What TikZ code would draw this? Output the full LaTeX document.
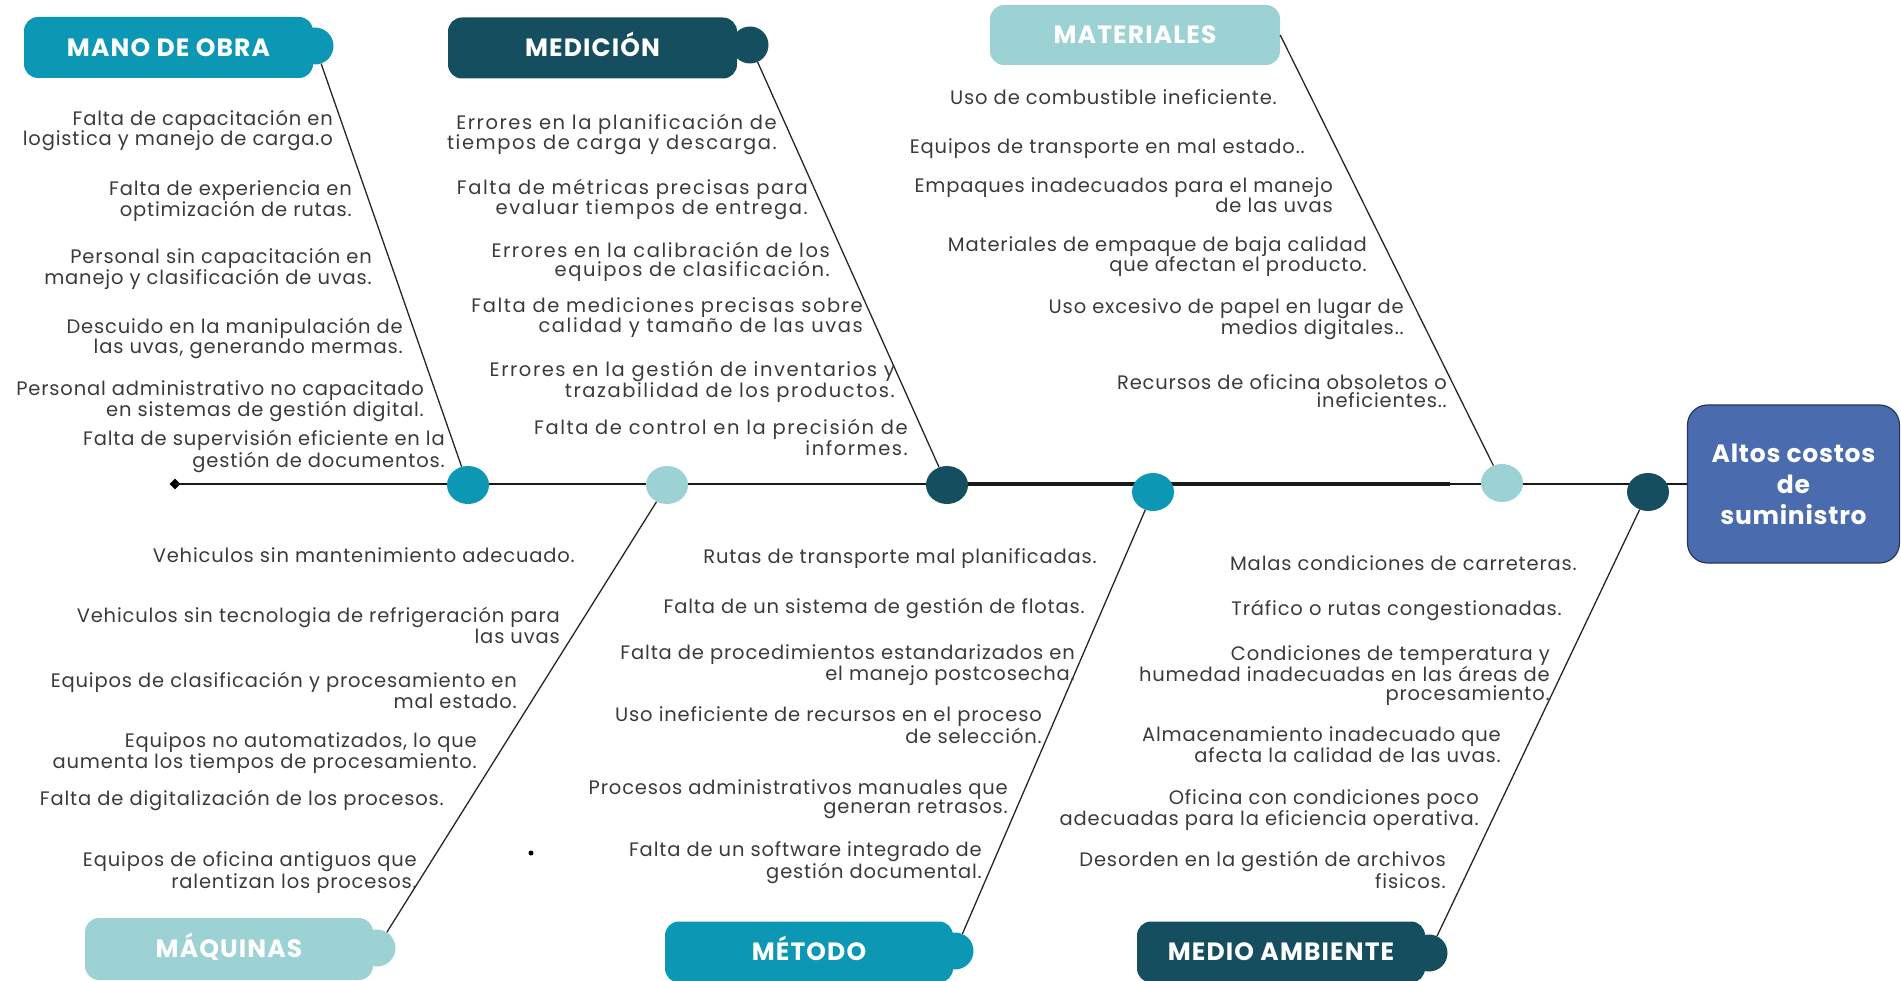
\documentclass[tikz,border=0pt]{standalone}
\usepackage{fontspec}
\setmainfont{Poppins}
\newfontfamily\causefont[LetterSpace=4.3]{Poppins}
\newfontfamily\widecausefont[LetterSpace=8]{Poppins}
\newfontfamily\headfont[LetterSpace=4.5]{Poppins}
\newfontfamily\effectfont[LetterSpace=3]{Poppins}
\usetikzlibrary{shapes.geometric}
\definecolor{teal}{RGB}{12,152,180}
\definecolor{deep}{RGB}{20,78,95}
\definecolor{pale}{RGB}{156,210,211}
\definecolor{effect}{RGB}{74,107,174}
\definecolor{effectline}{RGB}{40,55,90}
\definecolor{txt}{RGB}{58,58,58}
\begin{document}
\begin{tikzpicture}[x=1pt,y=-1pt,
  cause/.style={font=\causefont\fontsize{19.5}{18.5}\selectfont, text=txt, align=right,
    inner sep=0pt, anchor=base east},
  widecause/.style={cause, font=\widecausefont\fontsize{19.5}{19.5}\selectfont},
  head/.style={rounded corners=14pt, minimum height=61pt, text=white, inner sep=0pt,
    text height=17.5pt, text depth=0pt, font=\headfont\bfseries\fontsize{25}{28}\selectfont},
  knob/.style={circle, minimum size=37pt, inner sep=0pt},
  joint/.style={ellipse, minimum width=42pt, minimum height=38pt, inner sep=0pt},
  bone/.style={line width=1.3pt, black!85},
  spine/.style={line width=2pt, black!90}]
\useasboundingbox (0,0) rectangle (1901,981);

% effect box at the head of the fish
\node[draw=effectline, line width=1.2pt, fill=effect, rounded corners=20pt, minimum width=212pt,
  minimum height=158pt, text=white, align=center,
  font=\effectfont\bfseries\fontsize{25}{31}\selectfont] (eff) at (1793.5,484) {Altos costos\\de\\suministro};

% tail and spine (heavier stretch in the middle)
\node[diamond, fill=black, minimum size=11pt, inner sep=0pt] (tail) at (175,484) {};
\coordinate (thickstart) at (947,484);
\coordinate (thickend) at (1450,484);
\draw[spine] (tail.center) -- (eff.west |- 0,484);
\draw[line width=3.2pt, black!90] (thickstart) -- (thickend);

% joints on the spine
\node[joint, fill=teal] (s1) at (468,485) {};
\node[joint, fill=pale] (s2) at (667,485) {};
\node[joint, fill=deep] (s3) at (947,485) {};
\node[joint, fill=teal] (s4) at (1153,492) {};
\node[joint, fill=pale] (s5) at (1502,483) {};
\node[joint, fill=deep] (s6) at (1648,492) {};

% category labels
\node[knob, fill=teal] (manoK) at (315,46) {};
\node[head, fill=teal, minimum width=289pt] (mano) at (168.5,47.5) {MANO DE OBRA};
\node[knob, fill=deep] (mediK) at (750,45) {};
\node[head, fill=deep, minimum width=289pt] (medi) at (592.5,48) {MEDICIÓN};
\node[head, fill=pale, minimum width=290pt, minimum height=60pt] (mate) at (1135,35) {MATERIALES};
\node[knob, fill=pale] (maquK) at (377,948) {};
\node[head, fill=pale, minimum width=288pt, minimum height=62pt] (maqu) at (229,949) {MÁQUINAS};
\node[knob, fill=teal] (metoK) at (955,951) {};
\node[head, fill=teal, minimum width=288pt] (meto) at (809,952) {MÉTODO};
\node[knob, fill=deep] (mediaK) at (1429,953) {};
\node[head, fill=deep, minimum width=288pt] (media) at (1281,952) {MEDIO AMBIENTE};

% bones
\draw[bone] (manoK) -- (s1);
\draw[bone] (mediK) -- (s3);
\draw[bone] (mate.east) -- (s5);
\draw[bone] (maquK) -- (s2);
\draw[bone] (metoK) -- (s4);
\draw[bone] (mediaK) -- (s6);

% causes: mano de obra
\node[cause] (a1) at (333,146) {Falta de capacitación en\\logistica y manejo de carga.o};
\node[cause] (a2) at (352,217) {Falta de experiencia en\\optimización de rutas.};
\node[cause] (a3) at (372,285) {Personal sin capacitación en\\manejo y clasificación de uvas.};
\node[cause] (a4) at (403,354) {Descuido en la manipulación de\\las uvas, generando mermas.};
\node[cause] (a5) at (424,417) {Personal administrativo no capacitado\\en sistemas de gestión digital.};
\node[cause] (a6) at (445,467) {Falta de supervisión eficiente en la\\gestión de documentos.};

% causes: medición
\node[widecause] (b1) at (777,150) {Errores en la planificación de\\tiempos de carga y descarga.};
\node[widecause] (b2) at (808,215) {Falta de métricas precisas para\\evaluar tiempos de entrega.};
\node[widecause] (b3) at (830,277) {Errores en la calibración de los\\equipos de clasificación.};
\node[widecause] (b4) at (863,333) {Falta de mediciones precisas sobre\\calidad y tamaño de las uvas};
\node[widecause] (b5) at (895,398) {Errores en la gestión de inventarios y\\trazabilidad de los productos.};
\node[widecause] (b6) at (908,455) {Falta de control en la precisión de\\informes.};

% causes: materiales
\node[cause] (c1) at (1277,105) {Uso de combustible ineficiente.};
\node[cause] (c2) at (1305,154) {Equipos de transporte en mal estado..};
\node[cause] (c3) at (1333,213) {Empaques inadecuados para el manejo\\de las uvas};
\node[cause] (c4) at (1367,272) {Materiales de empaque de baja calidad\\que afectan el producto.};
\node[cause] (c5) at (1404,335) {Uso excesivo de papel en lugar de\\medios digitales..};
\node[cause] (c6) at (1447,408) {Recursos de oficina obsoletos o\\ineficientes..};

% causes: máquinas
\node[cause] (d1) at (575,562) {Vehiculos sin mantenimiento adecuado.};
\node[cause] (d2) at (560,643) {Vehiculos sin tecnologia de refrigeración para\\las uvas};
\node[cause] (d3) at (517,708) {Equipos de clasificación y procesamiento en\\mal estado.};
\node[cause] (d4) at (477,768) {Equipos no automatizados, lo que\\aumenta los tiempos de procesamiento.};
\node[cause] (d5) at (444,805) {Falta de digitalización de los procesos.};
\node[cause] (d6) at (417,888) {Equipos de oficina antiguos que\\ralentizan los procesos.};
\node[circle, fill=black, minimum size=5pt, inner sep=0pt] (dot) at (531,853) {};

% causes: método
\node[cause] (e1) at (1097,563) {Rutas de transporte mal planificadas.};
\node[cause] (e2) at (1085,613) {Falta de un sistema de gestión de flotas.};
\node[cause] (e3) at (1075,680) {Falta de procedimientos estandarizados en\\el manejo postcosecha.};
\node[cause] (e4) at (1042,743) {Uso ineficiente de recursos en el proceso\\de selección.};
\node[cause] (e5) at (1008,813) {Procesos administrativos manuales que\\generan retrasos.};
\node[cause] (e6) at (982,878) {Falta de un software integrado de\\gestión documental.};

% causes: medio ambiente
\node[cause] (f1) at (1577,570) {Malas condiciones de carreteras.};
\node[cause] (f2) at (1562,615) {Tráfico o rutas congestionadas.};
\node[cause] (f3) at (1550,700) {Condiciones de temperatura y\\humedad inadecuadas en las áreas de\\procesamiento.};
\node[cause] (f4) at (1501,762) {Almacenamiento inadecuado que\\afecta la calidad de las uvas.};
\node[cause] (f5) at (1479,825) {Oficina con condiciones poco\\adecuadas para la eficiencia operativa.};
\node[cause] (f6) at (1446,888) {Desorden en la gestión de archivos\\fisicos.};
\end{tikzpicture}
\end{document}
